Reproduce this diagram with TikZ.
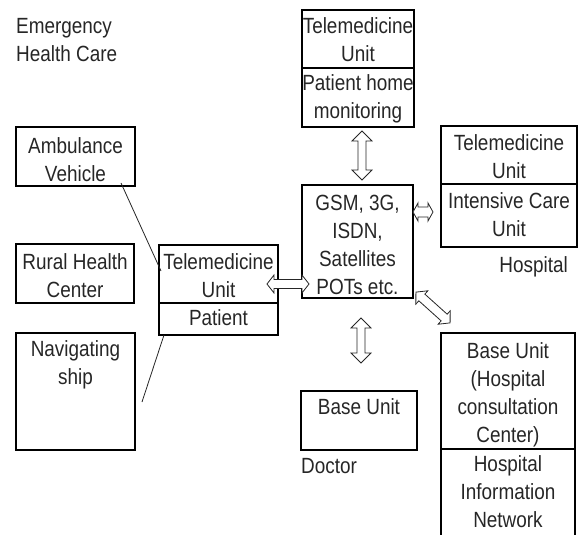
\documentclass[tikz,border=0pt]{standalone}
\usepackage{fontspec}
\setmainfont{Liberation Sans}[FakeStretch=0.86]
\begin{document}
\begin{tikzpicture}[x=1pt,y=-1pt,
  box/.style={draw=black, line width=1.1pt, rectangle, inner sep=0pt, outer sep=0pt, anchor=north west},
  txt/.style={inner sep=0pt, align=center, anchor=north, text=black!85,
    font=\fontsize{22}{28}\selectfont},
  link/.style={draw=black!85, line width=0.8pt},
  harrow/.style={draw=black!85, line width=0.8pt, fill=white, line join=miter},
  % hollow double arrow: length, shaft half-width, head half-width, head length
  pics/dblarrow/.style n args={4}{code={
    \path[harrow] ({-#1/2},0) -- ({-#1/2+#4},#3) -- ({-#1/2+#4},#2)
      -- ({#1/2-#4},#2) -- ({#1/2-#4},#3) -- ({#1/2},0)
      -- ({#1/2-#4},{-#3}) -- ({#1/2-#4},{-#2}) -- ({-#1/2+#4},{-#2})
      -- ({-#1/2+#4},{-#3}) -- cycle;
  }}]
\useasboundingbox (0,0) rectangle (579,535);

% heading
\node[txt, anchor=north west, align=left] (ehc) at (16,18) {Emergency\\Health Care};

% left-hand sites
\node[box, minimum width=119pt, minimum height=59pt] (amb) at (16,127) {};
\node[txt] (ambt) at (75.5,137) {Ambulance\\Vehicle};
\node[box, minimum width=118pt, minimum height=59pt] (rur) at (16,244) {};
\node[txt] (rurt) at (75,253) {Rural Health\\Center};
\node[box, minimum width=119pt, minimum height=117pt] (ship) at (16,333) {};
\node[txt] (shipt) at (75.5,340) {Navigating\\ship};

% patient-side telemedicine unit
\node[box, minimum width=119pt, minimum height=58pt] (tmu) at (159,245) {};
\node[txt] (tmut) at (218.5,253) {Telemedicine\\Unit};
\node[box, minimum width=119pt, minimum height=32pt] (pat) at (159,303) {};
\node[txt] (patt) at (218.5,309) {Patient};

% home monitoring unit
\node[box, minimum width=112pt, minimum height=58pt] (htu) at (302,10) {};
\node[txt] (htut) at (358,17) {Telemedicine\\Unit};
\node[box, minimum width=112pt, minimum height=59pt] (phm) at (302,68) {};
\node[txt] (phmt) at (358,74) {Patient home\\monitoring};

% network
\node[box, minimum width=111pt, minimum height=113pt] (net) at (302,185) {};
\node[txt] (nett) at (357.5,195) {GSM, 3G,\\ISDN,\\Satellites\\POTs etc.};

% hospital intensive care
\node[box, minimum width=136pt, minimum height=58pt] (hsu) at (441,126) {};
\node[txt] (hsut) at (509,134) {Telemedicine\\Unit};
\node[box, minimum width=136pt, minimum height=63pt] (icu) at (441,184) {};
\node[txt] (icut) at (509,192) {Intensive Care\\Unit};
\node[txt, anchor=north east] (hosp) at (568,256) {Hospital};

% doctor
\node[box, minimum width=116pt, minimum height=59pt] (doc) at (301,391) {};
\node[txt] (doct) at (359,398) {Base Unit};
\node[txt, anchor=north west] (docl) at (301,458) {Doctor};

% hospital consultation centre
\node[box, minimum width=134pt, minimum height=116pt] (hcc) at (441,333) {};
\node[txt] (hcct) at (508,342) {Base Unit\\(Hospital\\consultation\\Center)};
\draw[line width=1.1pt] (hcc.south west) -- ++(0,95) (hcc.south east) -- ++(0,95);
\node[txt] (hint) at (508,455) {Hospital\\Information\\Network};

% thin links from the sites
\coordinate (la) at (121,183);
\coordinate (lb) at (161,271);
\draw[link] (la) -- (lb);
\coordinate (lc) at (142,402);
\draw[link] ([xshift=5pt]pat.south west) -- (lc);

% hollow double arrows
\pic[rotate=90] at (362,155.5) {dblarrow={49}{4}{10}{10}};
\pic[rotate=90] at (361,340.5) {dblarrow={45}{4}{10}{10}};
\pic at (288,284) {dblarrow={42}{4.5}{9}{7}};
\pic at (423,212) {dblarrow={20}{5}{9}{5}};
\pic[rotate=-42] at (433,307.5) {dblarrow={46}{4.5}{9}{8}};
\end{tikzpicture}
\end{document}
